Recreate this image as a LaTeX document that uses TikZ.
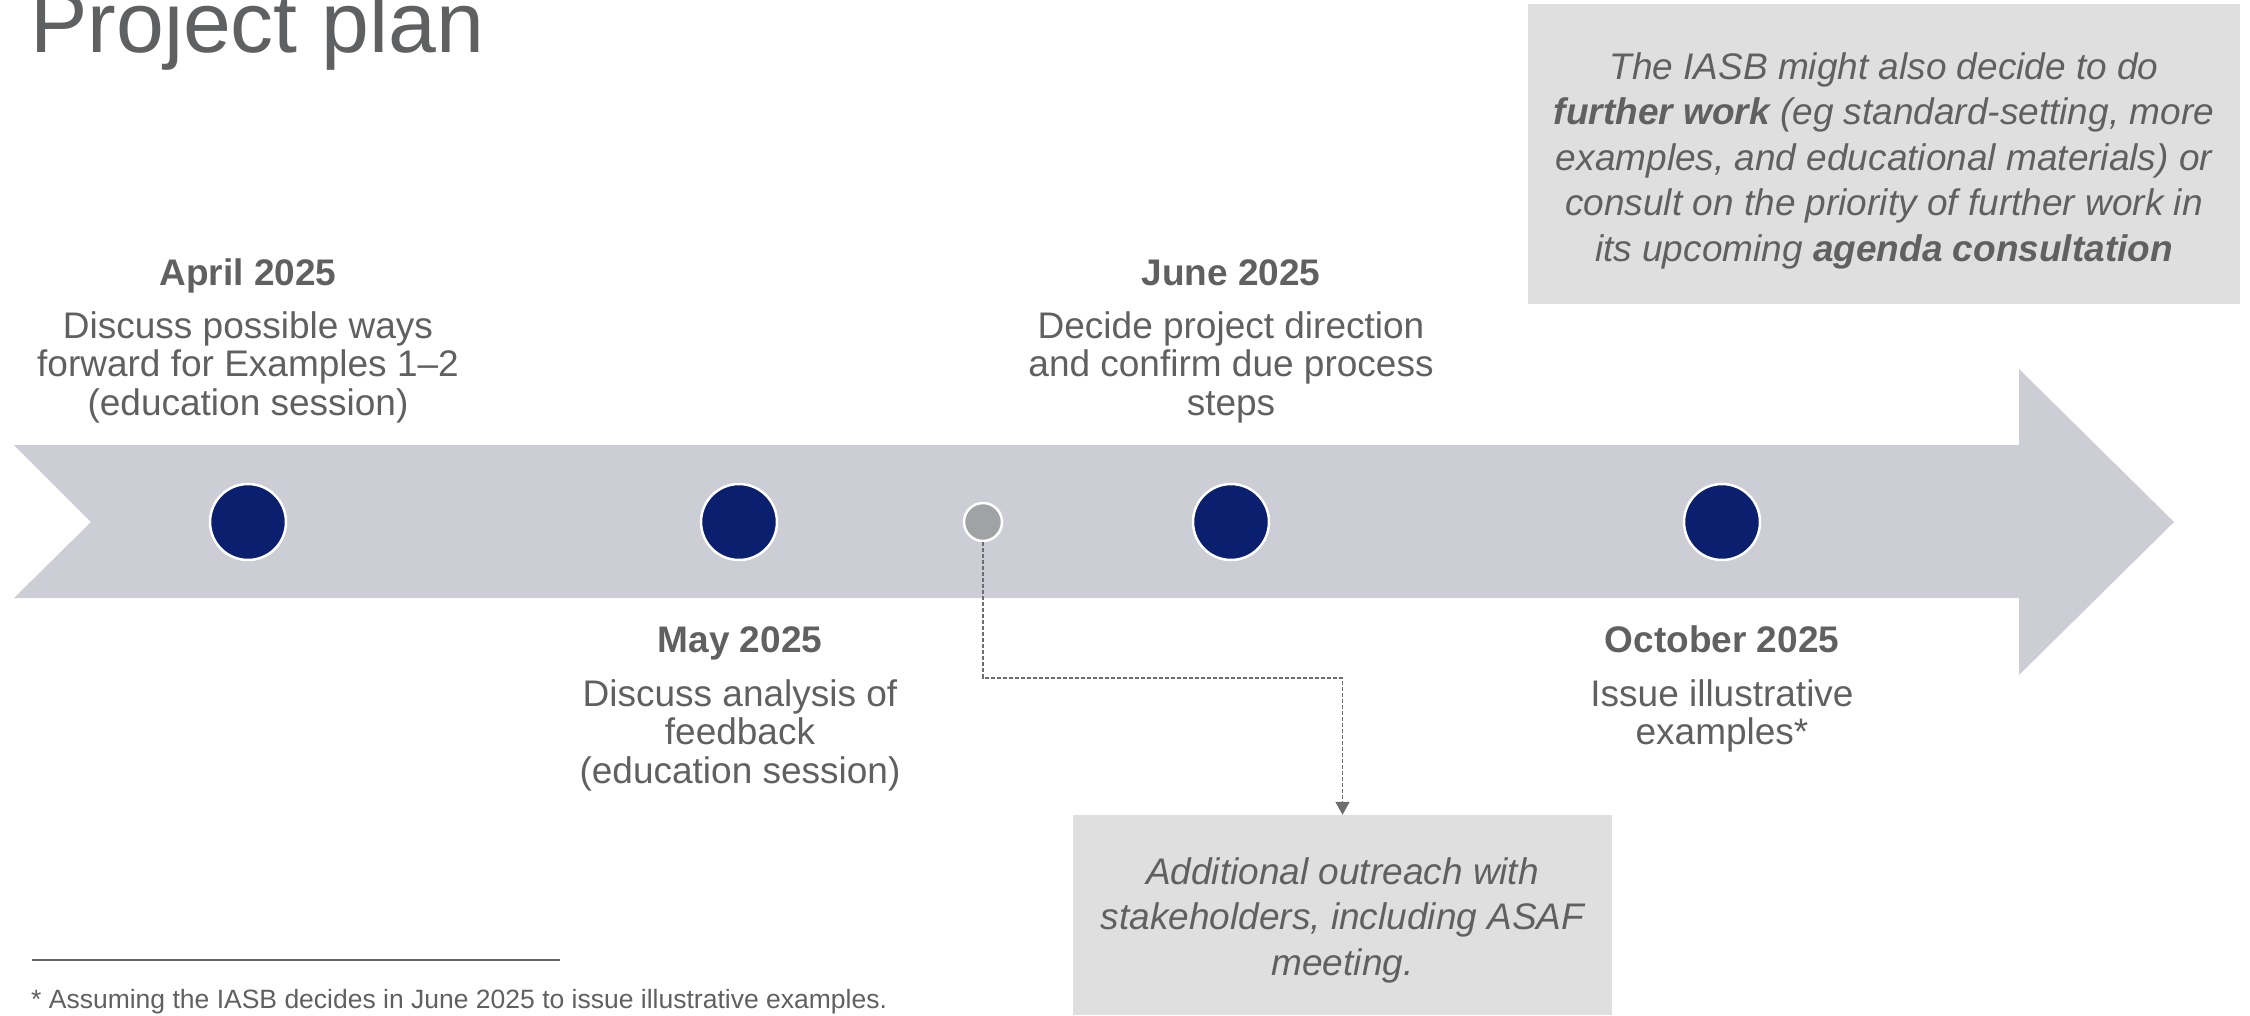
\documentclass[tikz,border=0pt]{standalone}
\usepackage{fontspec}
\setmainfont{Liberation Sans}
\usetikzlibrary{arrows.meta}
\definecolor{bandgray}{RGB}{204,205,213}
\definecolor{navy}{RGB}{10,32,110}
\definecolor{dotgray}{RGB}{161,162,164}
\definecolor{boxgray}{RGB}{223,223,223}
\definecolor{txt}{RGB}{96,96,96}
\definecolor{linkgray}{RGB}{110,110,110}
\begin{document}
\begin{tikzpicture}[x=1pt,y=-1pt,
  milestone/.style={circle,fill=navy,draw=white,line width=2.5pt,minimum size=76pt,inner sep=0pt},
  minor/.style={circle,fill=dotgray,draw=white,line width=2.5pt,minimum size=38pt,inner sep=0pt},
  datelabel/.style={anchor=base,inner sep=0pt,text=txt,font=\fontsize{37}{38}\selectfont\bfseries},
  % multi-line texts hang from their top: first baseline sits 0.7 baselineskip lower
  desc/.style={anchor=north,inner sep=0pt,text=txt,align=center,font=\fontsize{37}{38.3}\selectfont},
  note/.style={anchor=north,inner sep=0pt,text=txt,align=center,font=\fontsize{37}{45.5}\selectfont\itshape},
  notebox/.style={fill=boxgray,inner sep=0pt,draw=none},
  link/.style={draw=linkgray,line width=1.6pt,dash pattern=on 4pt off 2pt},
]
\useasboundingbox (0,0) rectangle (2250,1015);

% title
\node[anchor=base west,inner sep=0pt,text={rgb,255:red,95;green,96;blue,98},
      font=\fontsize{86}{92}\selectfont] (title) at (30,52) {Project plan};

% timeline band with notched tail and arrow head
\fill[bandgray] (14,445) -- (2019,445) -- (2019,369) -- (2174,522)
  -- (2019,675) -- (2019,598) -- (14,598) -- (91,522) -- cycle;

% milestones
\node[milestone] (apr) at (248,522) {};
\node[milestone] (may) at (739,522) {};
\node[minor]     (mid) at (983,522) {};
\node[milestone] (jun) at (1231,522) {};
\node[milestone] (oct) at (1722,522) {};

% labels above the band
\node[datelabel] (aprdate) at (248,285) {April 2025};
\node[desc] (aprtext) at (248,311.4) {Discuss possible ways\\forward for Examples 1--2\\(education session)};
\node[datelabel] (jundate) at (1231,285) {June 2025};
\node[desc] (juntext) at (1231,311.4) {Decide project direction\\and confirm due process\\steps};

% labels below the band
\node[datelabel] (maydate) at (740,652) {May 2025};
\node[desc] (maytext) at (740,679.4) {Discuss analysis of\\feedback\\(education session)};
\node[datelabel] (octdate) at (1722,652) {October 2025};
\node[desc] (octtext) at (1722,679.4) {Issue illustrative\\examples*};

% side notes
\node[notebox,minimum width=712pt,minimum height=300pt] (further) at (1884,154) {};
\node[note] (furthertext) at (1884,52.2) {The IASB might also decide to do\\
  \textbf{further work} (eg standard-setting, more\\
  examples, and educational materials) or\\
  consult on the priority of further work in\\
  its upcoming \textbf{agenda consultation}};

\node[notebox,minimum width=539pt,minimum height=200pt] (outreach) at (1342.5,915) {};
\node[note] (outreachtext) at (1342.5,857.2) {Additional outreach with\\stakeholders, including ASAF\\meeting.};

% dashed link from the interim dot to the outreach note
\coordinate (bendA) at (983,678);
\coordinate (bendB) at (1342.5,678);
\draw[link,-{Triangle[width=14pt,length=13pt,fill=linkgray]}] (mid.south) -- (bendA) -- (bendB) -- (outreach.north);

% footnote
\draw[draw={rgb,255:red,100;green,100;blue,100},line width=1.8pt] (32,960) -- (560,960);
\node[anchor=base west,inner sep=0pt,text=txt,font=\fontsize{26.5}{30}\selectfont] (footnote) at (31,1008)
  {* Assuming the IASB decides in June 2025 to issue illustrative examples.};
\end{tikzpicture}
\end{document}
